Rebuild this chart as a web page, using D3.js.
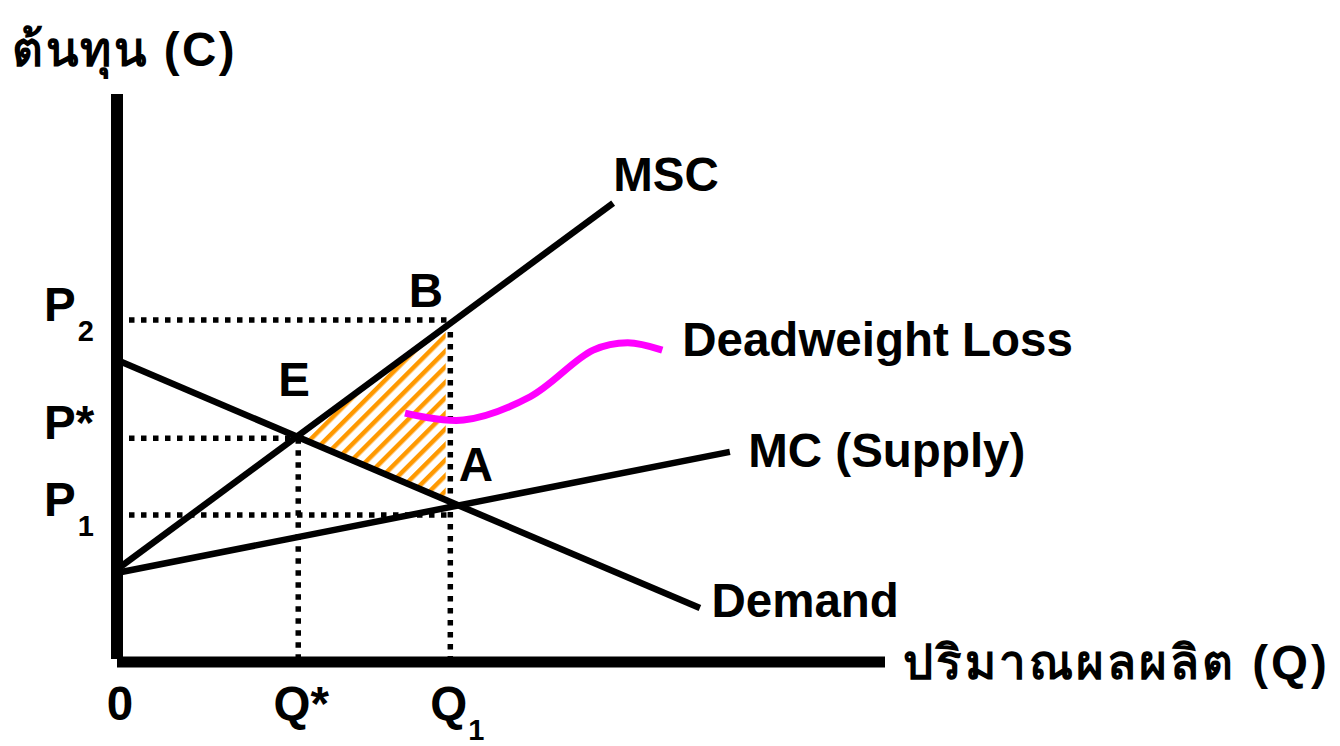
<!DOCTYPE html>
<html>
<head>
<meta charset="utf-8">
<script src="https://cdn.jsdelivr.net/npm/d3@7/dist/d3.min.js"></script>
<style>
  html, body { margin: 0; padding: 0; background: #fff; }
  svg text { font-family: "Liberation Sans", Arial, "DejaVu Sans", "Noto Sans", sans-serif; font-weight: bold; fill: #000; }
</style>
</head>
<body>
<svg id="chart" width="1340" height="746"></svg>
<script>
// ---- data (economic units) ----
const xDomain = [0, 100];
const yDomain = [0, 100];
const Qstar = 23.6, Q1 = 43.4;
const Pstar = 39.4, P1 = 25.9, P2 = 60.2;
const mscLine = [[0.4, 16.7], [64.6, 80.8]];
const mcLine = [[0.4, 15.8], [79.8, 37.0]];
const demandLine = [[0.6, 52.8], [75.9, 9.5]];
const dwlArea = [[23.2, 40.0], [42.8, 59.1], [42.8, 28.5]];
const pointerCurve = [[37.5, 43.8], [45.1, 42.6], [53.8, 46.7], [62.0, 54.9], [66.5, 56.2], [71.0, 54.9]];
const curveLabels = [
  {text: "MSC", q: 64.6, p: 82.9},
  {text: "MC (Supply)", q: 82.2, p: 34.4},
  {text: "Demand", q: 77.4, p: 7.9},
  {text: "Deadweight Loss", q: 73.6, p: 53.9}
];
const pointLabels = [
  {text: "B", q: 38.0, p: 62.5},
  {text: "E", q: 21.0, p: 46.9},
  {text: "A", q: 44.5, p: 31.9}
];
const yTickLabels = [
  {main: "P", sub: "2", p: P2},
  {main: "P*", sub: "", p: Pstar},
  {main: "P", sub: "1", p: P1}
];
const xTickLabels = [
  {main: "0", sub: "", q: 0},
  {main: "Q*", sub: "", q: Qstar},
  {main: "Q", sub: "1", q: Q1}
];
const yTitle = "ต้นทุน (C)";
const xTitle = "ปริมาณผลผลิต (Q)";

// ---- drawing ----
const svg = d3.select("#chart");
const x = d3.scaleLinear().domain(xDomain).range([117, 885]);
const y = d3.scaleLinear().domain(yDomain).range([662, 94]);

// hatch pattern
const defs = svg.append("defs");
const pat = defs.append("pattern")
  .attr("id", "hatch").attr("patternUnits", "userSpaceOnUse")
  .attr("width", 11).attr("height", 11)
  .attr("patternTransform", "rotate(45)");
pat.append("rect").attr("width", 11).attr("height", 11).attr("fill", "#fff");
pat.append("rect").attr("x", 0).attr("width", 4.5).attr("height", 11).attr("fill", "#FF9900");

const line = d3.line().x(d => x(d[0])).y(d => y(d[1]));

svg.append("path").datum(dwlArea)
  .attr("d", line.curve(d3.curveLinearClosed))
  .attr("fill", "url(#hatch)");
line.curve(d3.curveLinear);

// dotted guides
const dots = svg.append("g").attr("stroke", "#000").attr("stroke-width", 5.5).attr("stroke-dasharray", "5.5,6.5").attr("fill", "none");
dots.append("line").attr("x1", x(0)).attr("x2", x(Q1)).attr("y1", y(P2)).attr("y2", y(P2));
dots.append("line").attr("x1", x(0)).attr("x2", x(Qstar)).attr("y1", y(Pstar)).attr("y2", y(Pstar));
dots.append("line").attr("x1", x(0)).attr("x2", x(Q1)).attr("y1", y(P1)).attr("y2", y(P1));
dots.append("line").attr("x1", x(Qstar)).attr("x2", x(Qstar)).attr("y1", y(Pstar)).attr("y2", y(0));
dots.append("line").attr("x1", x(Q1)).attr("x2", x(Q1)).attr("y1", y(P2) + 12).attr("y2", y(0));

// curves
[mscLine, mcLine, demandLine].forEach(d => {
  svg.append("path").datum(d).attr("d", line).attr("stroke", "#000").attr("stroke-width", 6.5).attr("fill", "none");
});

// pointer curve
svg.append("path").datum(pointerCurve)
  .attr("d", d3.line().x(d => x(d[0])).y(d => y(d[1])).curve(d3.curveCatmullRom))
  .attr("stroke", "#FF00FF").attr("stroke-width", 7).attr("fill", "none");

// axes
svg.append("line").attr("x1", x(0)).attr("x2", x(0)).attr("y1", y(100)).attr("y2", y(0) - 3)
  .attr("stroke", "#000").attr("stroke-width", 12);
svg.append("line").attr("x1", x(0)).attr("x2", x(100)).attr("y1", y(0)).attr("y2", y(0))
  .attr("stroke", "#000").attr("stroke-width", 11);

// labels
const fs = 47.5;
curveLabels.forEach(l => svg.append("text").attr("x", x(l.q)).attr("y", y(l.p)).attr("font-size", fs).text(l.text));
pointLabels.forEach(l => svg.append("text").attr("x", x(l.q)).attr("y", y(l.p)).attr("font-size", fs).text(l.text));

yTickLabels.forEach(l => {
  const t = svg.append("text").attr("x", 44).attr("y", y(l.p) + 1).attr("font-size", fs);
  t.append("tspan").text(l.main);
  if (l.sub) t.append("tspan").attr("font-size", 29).attr("dy", 20).attr("dx", 2).text(l.sub);
});
xTickLabels.forEach(l => {
  const t = svg.append("text").attr("x", x(l.q) + 3).attr("y", 720).attr("font-size", fs).attr("text-anchor", l.sub ? "start" : "middle");
  if (l.sub) t.attr("x", x(l.q) - 20);
  t.append("tspan").text(l.main);
  if (l.sub) t.append("tspan").attr("font-size", 29).attr("dy", 20).attr("dx", 1).text(l.sub);
});

svg.append("text").attr("x", 12).attr("y", 66).attr("font-size", fs).attr("letter-spacing", 2.5).text(yTitle);
svg.append("text").attr("x", 903).attr("y", 679).attr("font-size", fs).attr("letter-spacing", 3).text(xTitle);
</script>
</body>
</html>
